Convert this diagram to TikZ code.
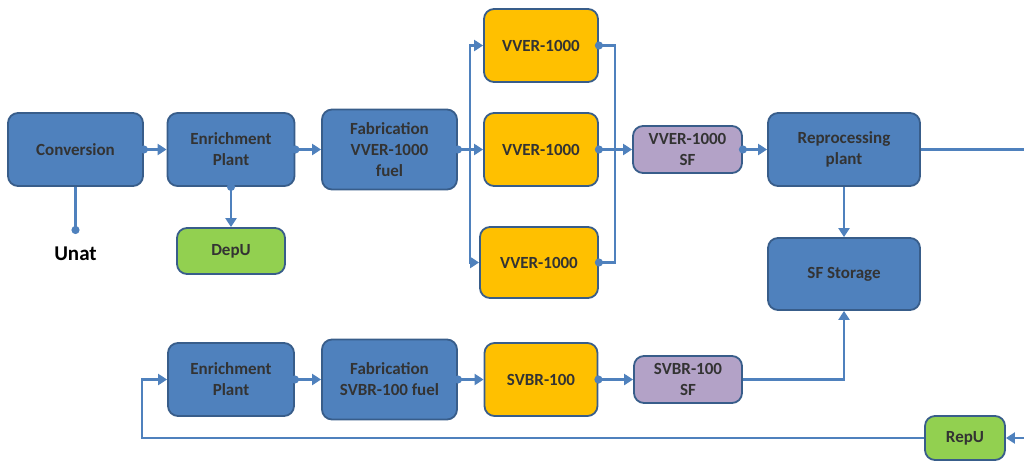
\documentclass[tikz,border=0pt]{standalone}
\usepackage{fontspec}
\setmainfont{Carlito}
\usepackage{xcolor}
\usetikzlibrary{arrows.meta}

\definecolor{boxblue}{HTML}{4F81BD}
\definecolor{edgeblue}{HTML}{385D8A}
\definecolor{reactorfill}{HTML}{FFC000}
\definecolor{spentfill}{HTML}{B3A2C7}
\definecolor{uraniumfill}{HTML}{92D050}
\definecolor{labelgray}{HTML}{333333}

\begin{document}
\begin{tikzpicture}[x=1pt,y=-1pt,
    box/.style={draw=edgeblue, line width=1.8pt, rounded corners=10pt, align=center, text=labelgray,
        font=\fontsize{17}{21}\selectfont\bfseries, inner sep=2pt},
    plant/.style={box, fill=boxblue},
    reactor/.style={box, fill=reactorfill},
    spent/.style={box, fill=spentfill},
    uranium/.style={box, fill=uraniumfill},
    link/.style={draw=boxblue, line width=2.2pt},
    flow/.style={link, -{Triangle[length=9pt,width=11pt]}},
    dotflow/.style={link, {Circle[length=8pt]}-{Triangle[length=9pt,width=11pt]}, shorten <=-4pt},
    dotlink/.style={link, {Circle[length=8pt]}-, shorten <=-4pt}]
    \useasboundingbox (0,0) rectangle (1024,461);

    % VVER-1000 line
    \node[plant, minimum width=135pt, minimum height=73pt] (conv) at (75.5,149.5) {Conversion};
    \node[plant, minimum width=127pt, minimum height=73pt] (enr1) at (231,149.5) {Enrichment\\Plant};
    \node[plant, minimum width=135pt, minimum height=80pt] (fab1) at (389.5,149.5) {Fabrication\\VVER-1000\\fuel};
    \node[reactor, minimum width=114pt, minimum height=73pt] (vv1) at (541,45.5) {VVER-1000};
    \node[reactor, minimum width=114pt, minimum height=73pt] (vv2) at (541,149.5) {VVER-1000};
    \node[reactor, minimum width=118pt, minimum height=71pt] (vv3) at (539,262.5) {VVER-1000};
    \node[spent, minimum width=109pt, minimum height=47pt] (vvsf) at (687.5,149.5) {VVER-1000\\SF};
    \node[plant, minimum width=152pt, minimum height=73pt] (repro) at (844,149.5) {Reprocessing\\plant};
    \node[plant, minimum width=152pt, minimum height=72pt] (store) at (844,274) {SF Storage};
    \node[uranium, minimum width=108pt, minimum height=46pt] (depu) at (231,251) {DepU};
    \node[font=\fontsize{21}{24}\selectfont\bfseries, text=black] (unat) at (75.5,254) {Unat};
    \coordinate (udot) at (75.5,234);

    % SVBR-100 line
    \node[plant, minimum width=126pt, minimum height=73pt] (enr2) at (231,379.5) {Enrichment\\Plant};
    \node[plant, minimum width=135pt, minimum height=80pt] (fab2) at (389.5,379.5) {Fabrication\\SVBR-100 fuel};
    \node[reactor, minimum width=113pt, minimum height=73pt] (svbr) at (541,379.5) {SVBR-100};
    \node[spent, minimum width=108pt, minimum height=47pt] (svsf) at (688,379.5) {SVBR-100\\SF};
    \node[uranium, minimum width=80pt, minimum height=44pt] (repu) at (965,438) {RepU};

    % helper points
    \coordinate (split) at (470,149.5);
    \coordinate (merge) at (615,149.5);
    \coordinate (offright) at (1040,149.5);
    \coordinate (loopturn) at (142,438);

    % connectors, upper line
    \draw[link, -{Circle[length=8pt]}] (conv) -- (udot);
    \draw[dotflow] (conv) -- (enr1);
    \draw[dotflow] (enr1) -- (fab1);
    \draw[dotflow] (enr1) -- (depu);
    \draw[dotflow] (fab1) -- (vv2);
    \draw[flow] (split) |- (vv1);
    \draw[flow] (split) |- (vv3);
    \draw[dotlink] (vv1) -| (merge);
    \draw[dotlink] (vv3) -| (merge);
    \draw[dotflow] (vv2) -- (vvsf);
    \draw[dotflow] (vvsf) -- (repro);
    \draw[flow] (repro) -- (store);
    \draw[flow] (repro.east) -- (offright) |- (repu.east);

    % connectors, lower line
    \draw[flow] (repu.west) -- (loopturn) |- (enr2.west);
    \draw[dotflow] (enr2) -- (fab2);
    \draw[dotflow] (fab2) -- (svbr);
    \draw[dotflow] (svbr) -- (svsf);
    \draw[flow] (svsf.east) -| (store.south);
\end{tikzpicture}
\end{document}
